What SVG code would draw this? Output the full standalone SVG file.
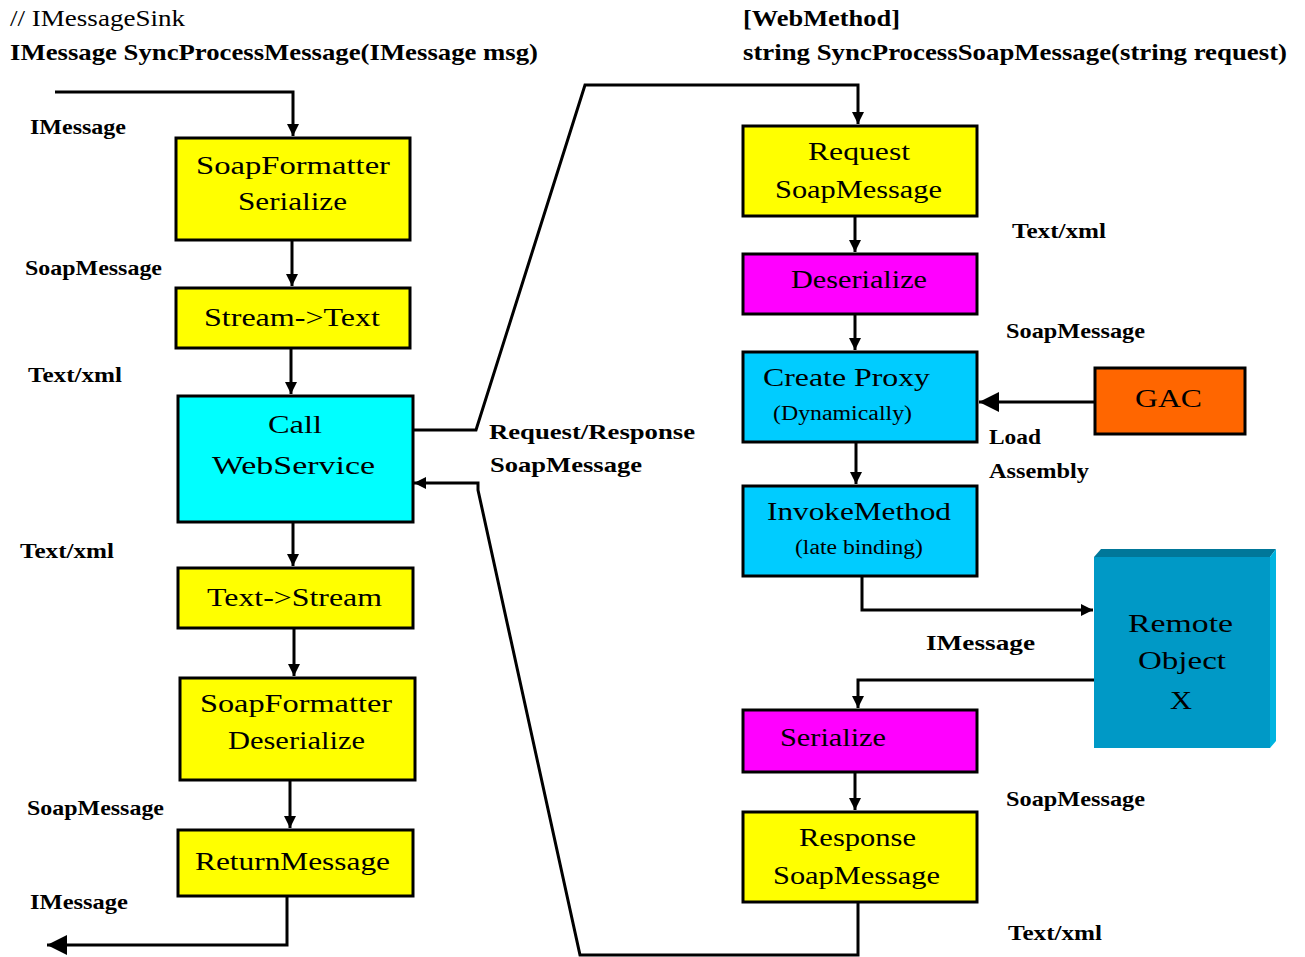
<svg xmlns="http://www.w3.org/2000/svg" width="1305" height="957" viewBox="0 0 1305 957">
<style>
.box{stroke:#000;stroke-width:3}
.y{fill:#FFFF00}.c{fill:#00FFFF}.b{fill:#00CCFF}.m{fill:#FF00FF}.o{fill:#FF6600}
.t{font-family:"Liberation Serif","Times New Roman",serif;font-size:25px;fill:#000}
.s{font-family:"Liberation Serif","Times New Roman",serif;font-size:20px;fill:#000}
.l{font-family:"Liberation Serif","Times New Roman",serif;font-size:21px;font-weight:bold;fill:#000}
.h{font-family:"Liberation Serif","Times New Roman",serif;font-size:23px;fill:#000}
.w{fill:none;stroke:#000;stroke-width:3}
</style>
<defs>
<marker id="a" markerUnits="userSpaceOnUse" markerWidth="14" markerHeight="14" refX="12" refY="7" orient="auto"><path d="M0,1 L12,7 L0,13 Z" fill="#000"/></marker>
<marker id="ab" markerUnits="userSpaceOnUse" markerWidth="22" markerHeight="22" refX="20" refY="11" orient="auto"><path d="M0,1 L20,11 L0,21 Z" fill="#000"/></marker>
</defs>
<g id="header">
<text class="h" x="10" y="26" textLength="175" lengthAdjust="spacingAndGlyphs">// IMessageSink</text>
<text class="h" x="10" y="60" font-weight="bold" textLength="528" lengthAdjust="spacingAndGlyphs">IMessage SyncProcessMessage(IMessage msg)</text>
<text class="h" x="743" y="26" font-weight="bold" textLength="157" lengthAdjust="spacingAndGlyphs">[WebMethod]</text>
<text class="h" x="743" y="60" font-weight="bold" textLength="544" lengthAdjust="spacingAndGlyphs">string SyncProcessSoapMessage(string request)</text>
</g>
<g id="connectors">
<path class="w" d="M55,92 H293 V136" marker-end="url(#a)"/>
<path class="w" d="M292,240 V286" marker-end="url(#a)"/>
<path class="w" d="M291,348 V394" marker-end="url(#a)"/>
<path class="w" d="M293,522 V566" marker-end="url(#a)"/>
<path class="w" d="M294,628 V676" marker-end="url(#a)"/>
<path class="w" d="M290,780 V828" marker-end="url(#a)"/>
<path class="w" d="M287,896 V945 H47" marker-end="url(#ab)"/>
<path class="w" d="M413,430 H476 L585,85 H858 V124" marker-end="url(#a)"/>
<path class="w" d="M855,216 V252" marker-end="url(#a)"/>
<path class="w" d="M855,314 V350" marker-end="url(#a)"/>
<path class="w" d="M856,442 V484" marker-end="url(#a)"/>
<path class="w" d="M862,576 V610 H1093" marker-end="url(#a)"/>
<path class="w" d="M1094,680 H858 V708" marker-end="url(#a)"/>
<path class="w" d="M855,772 V810" marker-end="url(#a)"/>
<path class="w" d="M858,902 V955 H580 L478,490 V483 H414" marker-end="url(#a)"/>
<path class="w" d="M1095,402 H979" marker-end="url(#ab)"/>
</g>
<g id="labels">
<text class="l" x="30" y="134" textLength="96" lengthAdjust="spacingAndGlyphs">IMessage</text>
<text class="l" x="25" y="275" textLength="137" lengthAdjust="spacingAndGlyphs">SoapMessage</text>
<text class="l" x="28" y="382" textLength="94" lengthAdjust="spacingAndGlyphs">Text/xml</text>
<text class="l" x="20" y="558" textLength="94" lengthAdjust="spacingAndGlyphs">Text/xml</text>
<text class="l" x="27" y="815" textLength="137" lengthAdjust="spacingAndGlyphs">SoapMessage</text>
<text class="l" x="30" y="909" textLength="98" lengthAdjust="spacingAndGlyphs">IMessage</text>
<text class="l" x="489" y="439" textLength="206" lengthAdjust="spacingAndGlyphs">Request/Response</text>
<text class="l" x="490" y="472" textLength="152" lengthAdjust="spacingAndGlyphs">SoapMessage</text>
<text class="l" x="1012" y="238" textLength="94" lengthAdjust="spacingAndGlyphs">Text/xml</text>
<text class="l" x="1006" y="338" textLength="139" lengthAdjust="spacingAndGlyphs">SoapMessage</text>
<text class="l" x="989" y="444" textLength="52" lengthAdjust="spacingAndGlyphs">Load</text>
<text class="l" x="989" y="478" textLength="100" lengthAdjust="spacingAndGlyphs">Assembly</text>
<text class="l" x="926" y="650" textLength="109" lengthAdjust="spacingAndGlyphs">IMessage</text>
<text class="l" x="1006" y="806" textLength="139" lengthAdjust="spacingAndGlyphs">SoapMessage</text>
<text class="l" x="1008" y="940" textLength="94" lengthAdjust="spacingAndGlyphs">Text/xml</text>
</g>
<g id="soapformatter-serialize">
<rect class="box y" x="176" y="138" width="234" height="102"/>
<text class="t" x="196" y="174" textLength="194" lengthAdjust="spacingAndGlyphs">SoapFormatter</text>
<text class="t" x="238" y="210" textLength="109" lengthAdjust="spacingAndGlyphs">Serialize</text>
</g>
<g id="stream-text">
<rect class="box y" x="176" y="288" width="234" height="60"/>
<text class="t" x="204" y="326" textLength="176" lengthAdjust="spacingAndGlyphs">Stream-&gt;Text</text>
</g>
<g id="call-webservice">
<rect class="box c" x="178" y="396" width="235" height="126"/>
<text class="t" x="268" y="433" textLength="54" lengthAdjust="spacingAndGlyphs">Call</text>
<text class="t" x="212" y="474" textLength="163" lengthAdjust="spacingAndGlyphs">WebService</text>
</g>
<g id="text-stream">
<rect class="box y" x="178" y="568" width="235" height="60"/>
<text class="t" x="207" y="606" textLength="175" lengthAdjust="spacingAndGlyphs">Text-&gt;Stream</text>
</g>
<g id="soapformatter-deserialize">
<rect class="box y" x="180" y="678" width="235" height="102"/>
<text class="t" x="200" y="712" textLength="192" lengthAdjust="spacingAndGlyphs">SoapFormatter</text>
<text class="t" x="228" y="749" textLength="137" lengthAdjust="spacingAndGlyphs">Deserialize</text>
</g>
<g id="returnmessage">
<rect class="box y" x="178" y="830" width="235" height="66"/>
<text class="t" x="195" y="870" textLength="195" lengthAdjust="spacingAndGlyphs">ReturnMessage</text>
</g>
<g id="request-soapmessage">
<rect class="box y" x="743" y="126" width="234" height="90"/>
<text class="t" x="808" y="160" textLength="102" lengthAdjust="spacingAndGlyphs">Request</text>
<text class="t" x="775" y="198" textLength="167" lengthAdjust="spacingAndGlyphs">SoapMessage</text>
</g>
<g id="deserialize">
<rect class="box m" x="743" y="254" width="234" height="60"/>
<text class="t" x="791" y="288" textLength="136" lengthAdjust="spacingAndGlyphs">Deserialize</text>
</g>
<g id="create-proxy">
<rect class="box b" x="743" y="352" width="234" height="90"/>
<text class="t" x="763" y="386" textLength="167" lengthAdjust="spacingAndGlyphs">Create Proxy</text>
<text class="s" x="773" y="420" textLength="139" lengthAdjust="spacingAndGlyphs">(Dynamically)</text>
</g>
<g id="invokemethod">
<rect class="box b" x="743" y="486" width="234" height="90"/>
<text class="t" x="767" y="520" textLength="184" lengthAdjust="spacingAndGlyphs">InvokeMethod</text>
<text class="s" x="795" y="554" textLength="128" lengthAdjust="spacingAndGlyphs">(late binding)</text>
</g>
<g id="gac">
<rect class="box o" x="1095" y="368" width="150" height="66"/>
<text class="t" x="1135" y="407" textLength="67" lengthAdjust="spacingAndGlyphs">GAC</text>
</g>
<g id="remote-object">
<polygon points="1094,557 1101,549 1276,549 1270,557" fill="#007799"/>
<polygon points="1270,557 1276,549 1276,741 1270,748" fill="#00B4E0"/>
<rect x="1094" y="557" width="176" height="191" fill="#0099C6"/>
<text class="t" x="1128" y="632" textLength="105" lengthAdjust="spacingAndGlyphs">Remote</text>
<text class="t" x="1138" y="669" textLength="88" lengthAdjust="spacingAndGlyphs">Object</text>
<text class="t" x="1170" y="709" textLength="22" lengthAdjust="spacingAndGlyphs">X</text>
</g>
<g id="serialize">
<rect class="box m" x="743" y="710" width="234" height="62"/>
<text class="t" x="780" y="746" textLength="106" lengthAdjust="spacingAndGlyphs">Serialize</text>
</g>
<g id="response-soapmessage">
<rect class="box y" x="743" y="812" width="234" height="90"/>
<text class="t" x="799" y="846" textLength="117" lengthAdjust="spacingAndGlyphs">Response</text>
<text class="t" x="773" y="884" textLength="167" lengthAdjust="spacingAndGlyphs">SoapMessage</text>
</g>
</svg>
